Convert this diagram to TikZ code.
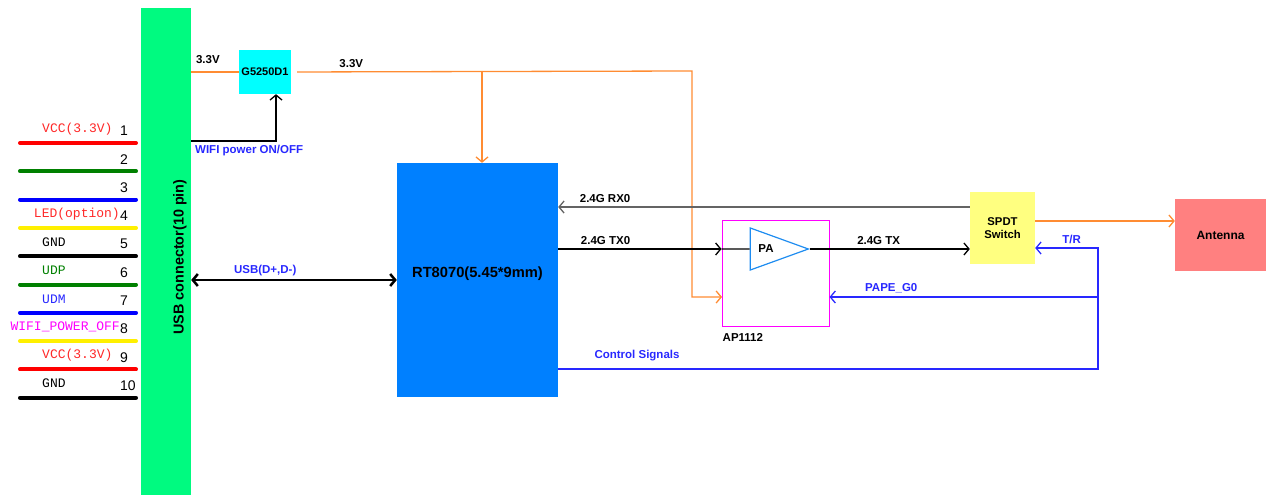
\documentclass[tikz,border=0pt]{standalone}
\usepackage{fontspec}
\setmainfont{Liberation Sans}
\newfontfamily\pinfont{Liberation Mono}
\usetikzlibrary{arrows.meta, shapes.geometric, positioning, calc}

\definecolor{usbgreen}{RGB}{0,250,128}
\definecolor{ldocyan}{RGB}{0,255,255}
\definecolor{rtblue}{RGB}{0,128,255}
\definecolor{spdtyellow}{RGB}{255,255,128}
\definecolor{antred}{RGB}{255,128,128}
\definecolor{apmagenta}{RGB}{255,0,255}
\definecolor{pablue}{RGB}{30,140,240}
\definecolor{pwrorange}{RGB}{255,140,50}
\definecolor{ctlblue}{RGB}{40,40,255}
\definecolor{rxgray}{RGB}{100,100,100}
\definecolor{pingreen}{RGB}{0,128,0}
\definecolor{pinyellow}{RGB}{255,240,0}
\definecolor{txtred}{RGB}{255,40,40}

\begin{document}
\begin{tikzpicture}[x=1pt, y=-1pt,
    >={Straight Barb[length=5pt, width=12pt]},
    chip/.style={rectangle, inner sep=0pt, align=center, font=\bfseries\fontsize{11.3}{13}\selectfont},
    sig/.style={font=\bfseries\fontsize{11.5}{13}\selectfont},
    ctl/.style={sig, text=ctlblue},
    wire/.style={line width=1.3pt},
    pwr/.style={wire, draw=pwrorange},
    pin/.style={line width=4pt, line cap=round},
    pinlabel/.style={font=\pinfont\fontsize{13}{15}\selectfont, inner sep=0pt}
]
\useasboundingbox (0,0) rectangle (1266,495);

% Blocks
\node[fill=usbgreen, minimum width=50pt, minimum height=487pt, inner sep=0pt] (usb) at (166,251.5) {};
\node[rotate=90, font=\bfseries\fontsize{14.4}{16}\selectfont] (usblabel) at (180,257) {USB connector(10 pin)};
\node[chip, fill=ldocyan, minimum width=52pt, minimum height=44pt, font=\bfseries\fontsize{11}{13}\selectfont] (ldo) at (265,72) {G5250D1};
\node[chip, fill=rtblue, minimum width=161pt, minimum height=234pt, text height=9pt, text depth=14pt,
      font=\bfseries\fontsize{14.7}{16}\selectfont] (rt) at (477.5,280) {RT8070(5.45*9mm)};
\node[chip, draw=apmagenta, line width=1pt, minimum width=107pt, minimum height=106pt] (ap) at (775.5,273) {};
\node[isosceles triangle, isosceles triangle stretches, draw=pablue, line width=1.2pt,
      minimum width=42pt, minimum height=58pt, inner sep=0pt, font=\bfseries\fontsize{11.5}{13}\selectfont] (pa) at (766,249) {PA};
\node[chip, fill=spdtyellow, minimum width=65pt, minimum height=72pt] (spdt) at (1002.5,228) {SPDT\\Switch};
\node[chip, fill=antred, minimum width=91pt, minimum height=72pt, font=\bfseries\fontsize{12}{14}\selectfont] (ant) at (1220.5,235) {Antenna};
\node[sig, anchor=north west, inner sep=1pt] (aplabel) at ([yshift=-6pt]ap.south west) {AP1112};

% Pins of the USB connector
\foreach \n/\wcol/\txt/\tcol/\anc/\lx in {
    1/red/{VCC(3.3V)}/txtred/west/42,
    2/pingreen/{}/black/west/42,
    3/blue/{}/black/west/42,
    4/pinyellow/{LED(option)}/txtred/east/120,
    5/black/{GND}/black/west/42,
    6/pingreen/{UDP}/pingreen/west/42,
    7/blue/{UDM}/ctlblue/west/42,
    8/pinyellow/{WIFI\_POWER\_OFF}/apmagenta/east/120,
    9/red/{VCC(3.3V)}/txtred/west/42,
    10/black/{GND}/black/west/42}{
  \pgfmathsetmacro\py{143+(\n-1)*28.3}
  \draw[pin, draw=\wcol] (20,\py) -- (136,\py);
  \node[font=\fontsize{14}{16}\selectfont, anchor=west, inner sep=0pt] (num\n) at (120,\py-12) {\n};
  \node[pinlabel, text=\tcol, anchor=\anc] (lab\n) at (\lx,\py-14) {\txt};
}

% Power
\coordinate (pwrsplit) at (482,71);
\coordinate (pwrturn) at (692,71);
\coordinate (apvin) at (722,297);
\draw[pwr] (usb.east |- ldo) -- node[sig, above=4pt, pos=0.35] {3.3V} (ldo.west);
\draw[pwr, ->, shorten <=6pt] (ldo.east) -- node[sig, above, pos=0.15] {3.3V} (pwrturn) |- (apvin);
\draw[pwr, ->] (pwrsplit) -- (pwrsplit |- rt.north);
\draw[wire, ->] (usb.east |- 0,141) node[ctl, below right] {WIFI power ON/OFF} -| ([xshift=11pt]ldo.south);

% USB data
\draw[line width=2.5pt, {Straight Barb[length=5pt, width=12pt]}-{Straight Barb[length=5pt, width=12pt]}]
    (usb.east |- rt) -- node[ctl, above, pos=0.36] {USB(D+,D-)} (rt.west);

% RF path
\draw[wire, draw=rxgray, ->] ([yshift=21pt]spdt.west) -- node[sig, above, pos=0.886] {2.4G RX0} ([yshift=21pt]spdt.west -| rt.east);
\draw[wire, ->] (rt.east |- pa) -- node[sig, above, pos=0.29] {2.4G TX0} (ap.west |- pa);
\draw[wire] (ap.west |- pa) -- (pa.west);
\draw[wire, ->] (pa.apex) -- node[sig, above, pos=0.43] {2.4G TX} (spdt.west |- pa);
\draw[pwr, ->] ([yshift=7pt]spdt.east) -- ([yshift=7pt]spdt.east -| ant.west);

% Control
\coordinate (ctlturn) at (1098,369);
\draw[wire, draw=ctlblue, ->] (rt.east |- ctlturn) -- node[ctl, above=4pt, pos=0.146] {Control Signals} (ctlturn)
    |- node[ctl, above, pos=0.71] {T/R} ([yshift=-20pt]spdt.east);
\draw[wire, draw=ctlblue, ->] (ctlturn |- apvin) -- node[ctl, above, pos=0.77] {PAPE\_G0} (ap.east |- apvin);

\end{tikzpicture}
\end{document}
